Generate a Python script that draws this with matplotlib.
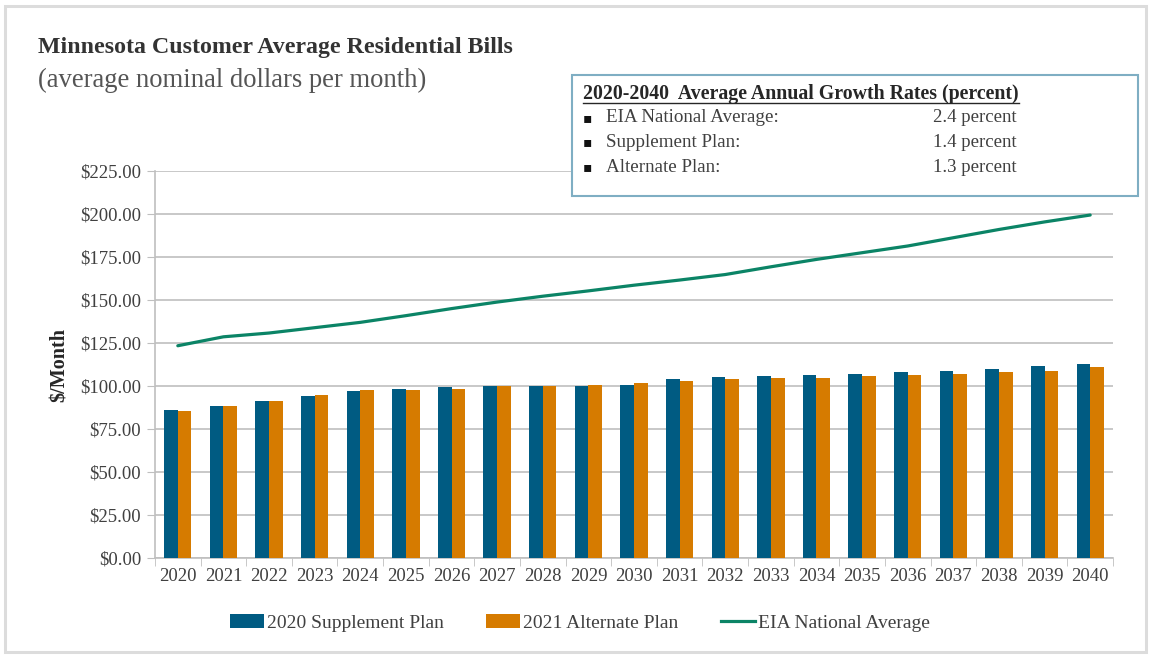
#!/usr/bin/env python3
"""Minnesota customer average residential bills, 2020-2040."""

import matplotlib
import matplotlib.pyplot as plt
import numpy as np
from matplotlib.lines import Line2D
from matplotlib.patches import Rectangle, Patch
from matplotlib.ticker import FuncFormatter, FixedLocator

matplotlib.use("Agg")

YEARS = [str(y) for y in range(2020, 2041)]

SUPPLEMENT_2020 = [86.2, 88.6, 91.1, 94.4, 97.1, 98.3, 99.2, 99.8, 100.1, 100.1,
                   100.6, 104.1, 105.4, 105.6, 106.6, 107.0, 108.0, 108.9,
                   110.1, 111.6, 113.0]
ALTERNATE_2021 = [85.6, 88.2, 91.1, 94.6, 97.9, 97.9, 98.3, 100.1, 99.8, 100.6,
                  101.7, 103.1, 104.1, 104.5, 104.5, 105.6, 106.6, 107.0,
                  108.0, 108.9, 111.2]
EIA_NATIONAL = [123.4, 128.6, 130.8, 133.9, 137.0, 140.9, 145.0, 148.8, 152.2,
                155.3, 158.6, 161.6, 164.8, 169.3, 173.6, 177.5, 181.4, 186.2,
                191.0, 195.4, 199.4]

GROWTH_LABELS = ["EIA National Average:", "Supplement Plan:", "Alternate Plan:"]
GROWTH_VALUES = ["2.4 percent", "1.4 percent", "1.3 percent"]

BLUE = "#005B82"
ORANGE = "#D67B00"
GREEN = "#0B8466"
TEXT = "#404040"
GRID = "#BFBFBF"

plt.rcParams.update({
    "font.family": ["Liberation Serif", "DejaVu Serif"],
    "text.color": TEXT,
})

W, H = 1154, 658
fig = plt.figure(figsize=(W / 100, H / 100), dpi=100)


def fx(px):
    return px / W


def fy(py):
    return 1 - py / H


# light outer frame
fig.patches.append(Rectangle((fx(5), fy(652)), fx(1146) - fx(5), fy(6) - fy(652),
                             transform=fig.transFigure, fill=False,
                             edgecolor="#DCDCDC", linewidth=2.2))

ax = fig.add_axes([fx(155), fy(558), fx(1113) - fx(155), fy(171) - fy(558)])

x = np.arange(len(YEARS))
bw = 0.3
ax.bar(x - bw / 2, SUPPLEMENT_2020, bw, color=BLUE, zorder=3)
ax.bar(x + bw / 2, ALTERNATE_2021, bw, color=ORANGE, zorder=3)
ax.plot(x, EIA_NATIONAL, color=GREEN, linewidth=2.3, zorder=4,
        solid_capstyle="round")

ax.set_xlim(-0.5, len(YEARS) - 0.5)
ax.set_ylim(0, 225)
ax.set_yticks(np.arange(0, 226, 25))
ax.yaxis.set_major_formatter(FuncFormatter(lambda v, _: f"${v:,.2f}"))
ax.yaxis.grid(True, color=GRID, linewidth=1.2, zorder=0)
ax.tick_params(axis="y", length=6, color=GRID, labelsize=13.5, labelcolor=TEXT,
               pad=4)

ax.set_xticks(x)
ax.set_xticklabels(YEARS)
ax.xaxis.set_minor_locator(FixedLocator(np.arange(-0.5, len(YEARS), 1.0)))
ax.tick_params(axis="x", which="major", length=0, labelsize=13.5,
               labelcolor=TEXT, pad=7)
ax.tick_params(axis="x", which="minor", length=6, color=GRID)

for side in ("top", "right"):
    ax.spines[side].set_visible(False)
for side in ("left", "bottom"):
    ax.spines[side].set_color(GRID)
    ax.spines[side].set_linewidth(1.2)

# y label placed in figure coordinates
fig.text(fx(60), fy(365), "$/Month", fontsize=14.5, fontweight="bold",
         color="#262626", rotation=90, ha="center", va="center")

# titles
fig.text(fx(38), fy(48), "Minnesota Customer Average Residential Bills",
         fontsize=17.2, fontweight="bold", color="#333333", va="center")
fig.text(fx(38), fy(80), "(average nominal dollars per month)",
         fontsize=19.2, color="#555555", va="center")

# growth-rate box
fig.patches.append(Rectangle((fx(572), fy(196)), fx(1138) - fx(572),
                             fy(75) - fy(196), transform=fig.transFigure,
                             facecolor="white", edgecolor="#7FAEC3",
                             linewidth=1.5, zorder=5))
hdr = fig.text(fx(583), fy(94), "2020-2040  Average Annual Growth Rates (percent)",
               fontsize=14.3, fontweight="bold", color="#262626", va="center",
               zorder=6)
fig.canvas.draw()
bb = hdr.get_window_extent().transformed(fig.transFigure.inverted())
fig.add_artist(Line2D([bb.x0, bb.x1], [fy(103), fy(103)],
                      transform=fig.transFigure, color="#262626",
                      linewidth=1, zorder=6))
for i, (lab, val) in enumerate(zip(GROWTH_LABELS, GROWTH_VALUES)):
    yy = fy(118 + i * 24.5)
    fig.text(fx(587), yy, "\u25aa", fontsize=10, color="#111111", va="center",
             ha="center", family="DejaVu Sans", zorder=6)
    fig.text(fx(606), yy, lab, fontsize=13.7, color=TEXT, va="center", zorder=6)
    fig.text(fx(933), yy, val, fontsize=13.5, color=TEXT, va="center", zorder=6)

# legend
handles = [Patch(facecolor=BLUE), Patch(facecolor=ORANGE),
           Line2D([], [], color=GREEN, linewidth=2.3)]
labels = ["2020 Supplement Plan", "2021 Alternate Plan", "EIA National Average"]
fig.legend(handles, labels, loc="center", bbox_to_anchor=(fx(580), fy(623)),
           ncol=3, frameon=False, fontsize=14, handlelength=1.75,
           handleheight=0.7, handletextpad=0.15, columnspacing=2.2)

fig.savefig("out.png", dpi=100)
